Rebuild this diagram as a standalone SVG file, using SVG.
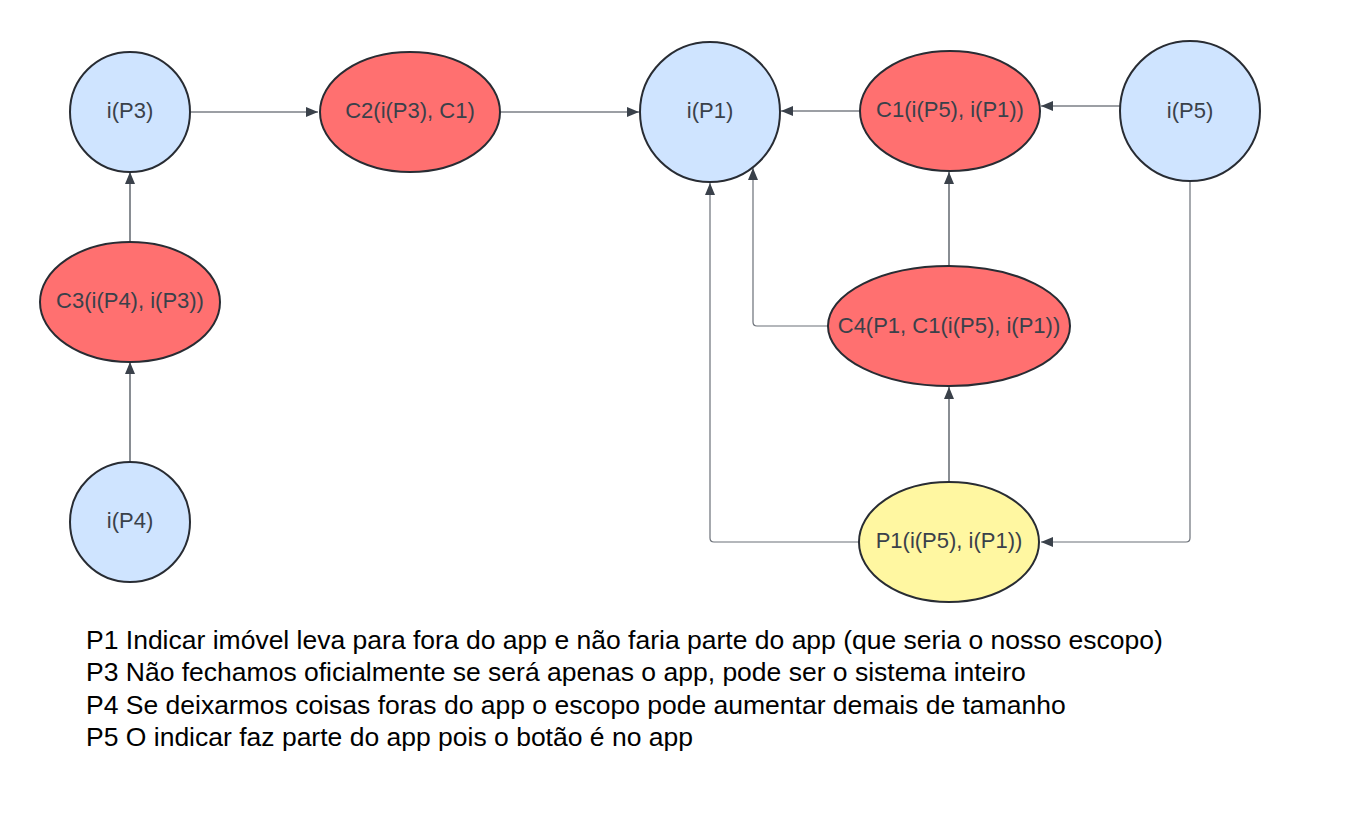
<svg xmlns="http://www.w3.org/2000/svg" width="1360" height="822" viewBox="0 0 1360 822">
<style>
.n{stroke:#282c33;stroke-width:2}
.b{fill:#cfe4ff}.r{fill:#ff7070}.y{fill:#fff7a1}
.t{font-family:"Liberation Sans",Arial,sans-serif;font-size:22px;fill:#3a414a;text-anchor:middle}
.c{fill:none;stroke:#3a414a;stroke-width:1.2}
.e{fill:none;stroke:#6b7078;stroke-width:1.2}
.note{font-family:"Liberation Sans",Arial,sans-serif;font-size:26.5px;fill:#000}
</style>
<defs>
<marker id="a" viewBox="0 0 12 10" refX="12" refY="5" markerWidth="12" markerHeight="10" markerUnits="userSpaceOnUse" orient="auto">
<path d="M0,0 L12,5 L0,10 Z" fill="#3a414a"/>
</marker>
</defs>
<rect width="1360" height="822" fill="#fff"/>
<g id="connectors">
<path class="c" d="M190,112 H318" marker-end="url(#a)"/>
<path class="c" d="M500,112 H639" marker-end="url(#a)"/>
<path class="c" d="M860,111 H781" marker-end="url(#a)"/>
<path class="c" d="M1120,106 H1041" marker-end="url(#a)"/>
<path class="c" d="M949,266 V172" marker-end="url(#a)"/>
<path class="c" d="M949,482 V387" marker-end="url(#a)"/>
<path class="c" d="M130,242 V172" marker-end="url(#a)"/>
<path class="c" d="M130,462 V362" marker-end="url(#a)"/>
<path class="e" d="M829,326 H757 Q753,326 753,322 V168" marker-end="url(#a)"/>
<path class="e" d="M859,542 H714 Q710,542 710,538 V183" marker-end="url(#a)"/>
<path class="e" d="M1190,182 V538 Q1190,542 1186,542 H1041" marker-end="url(#a)"/>
</g>
<g id="iP3"><ellipse class="n b" cx="130" cy="112" rx="60" ry="60"/><text class="t" x="130" y="118">i(P3)</text></g>
<g id="C2"><ellipse class="n r" cx="410" cy="112" rx="90" ry="60"/><text class="t" x="410" y="118">C2(i(P3), C1)</text></g>
<g id="iP1"><ellipse class="n b" cx="710" cy="112" rx="70" ry="70"/><text class="t" x="710" y="118">i(P1)</text></g>
<g id="C1"><ellipse class="n r" cx="950" cy="111" rx="90" ry="60"/><text class="t" x="950" y="117">C1(i(P5), i(P1))</text></g>
<g id="iP5"><ellipse class="n b" cx="1190" cy="111" rx="70" ry="70"/><text class="t" x="1190" y="118">i(P5)</text></g>
<g id="C3"><ellipse class="n r" cx="130" cy="302" rx="90" ry="60"/><text class="t" x="130" y="308">C3(i(P4), i(P3))</text></g>
<g id="iP4"><ellipse class="n b" cx="130" cy="522" rx="60" ry="60"/><text class="t" x="130" y="528">i(P4)</text></g>
<g id="C4"><ellipse class="n r" cx="949" cy="326" rx="121" ry="60"/><text class="t" x="949" y="333">C4(P1, C1(i(P5), i(P1))</text></g>
<g id="P1"><ellipse class="n y" cx="949" cy="542" rx="90" ry="60"/><text class="t" x="949" y="548">P1(i(P5), i(P1))</text></g>
<g id="notes">
<text class="note" x="86" y="649">P1 Indicar imóvel leva para fora do app e não faria parte do app (que seria o nosso escopo)</text>
<text class="note" x="86" y="681">P3 Não fechamos oficialmente se será apenas o app, pode ser o sistema inteiro</text>
<text class="note" x="86" y="714">P4 Se deixarmos coisas foras do app o escopo pode aumentar demais de tamanho</text>
<text class="note" x="86" y="746">P5 O indicar faz parte do app pois o botão é no app</text>
</g>
</svg>
